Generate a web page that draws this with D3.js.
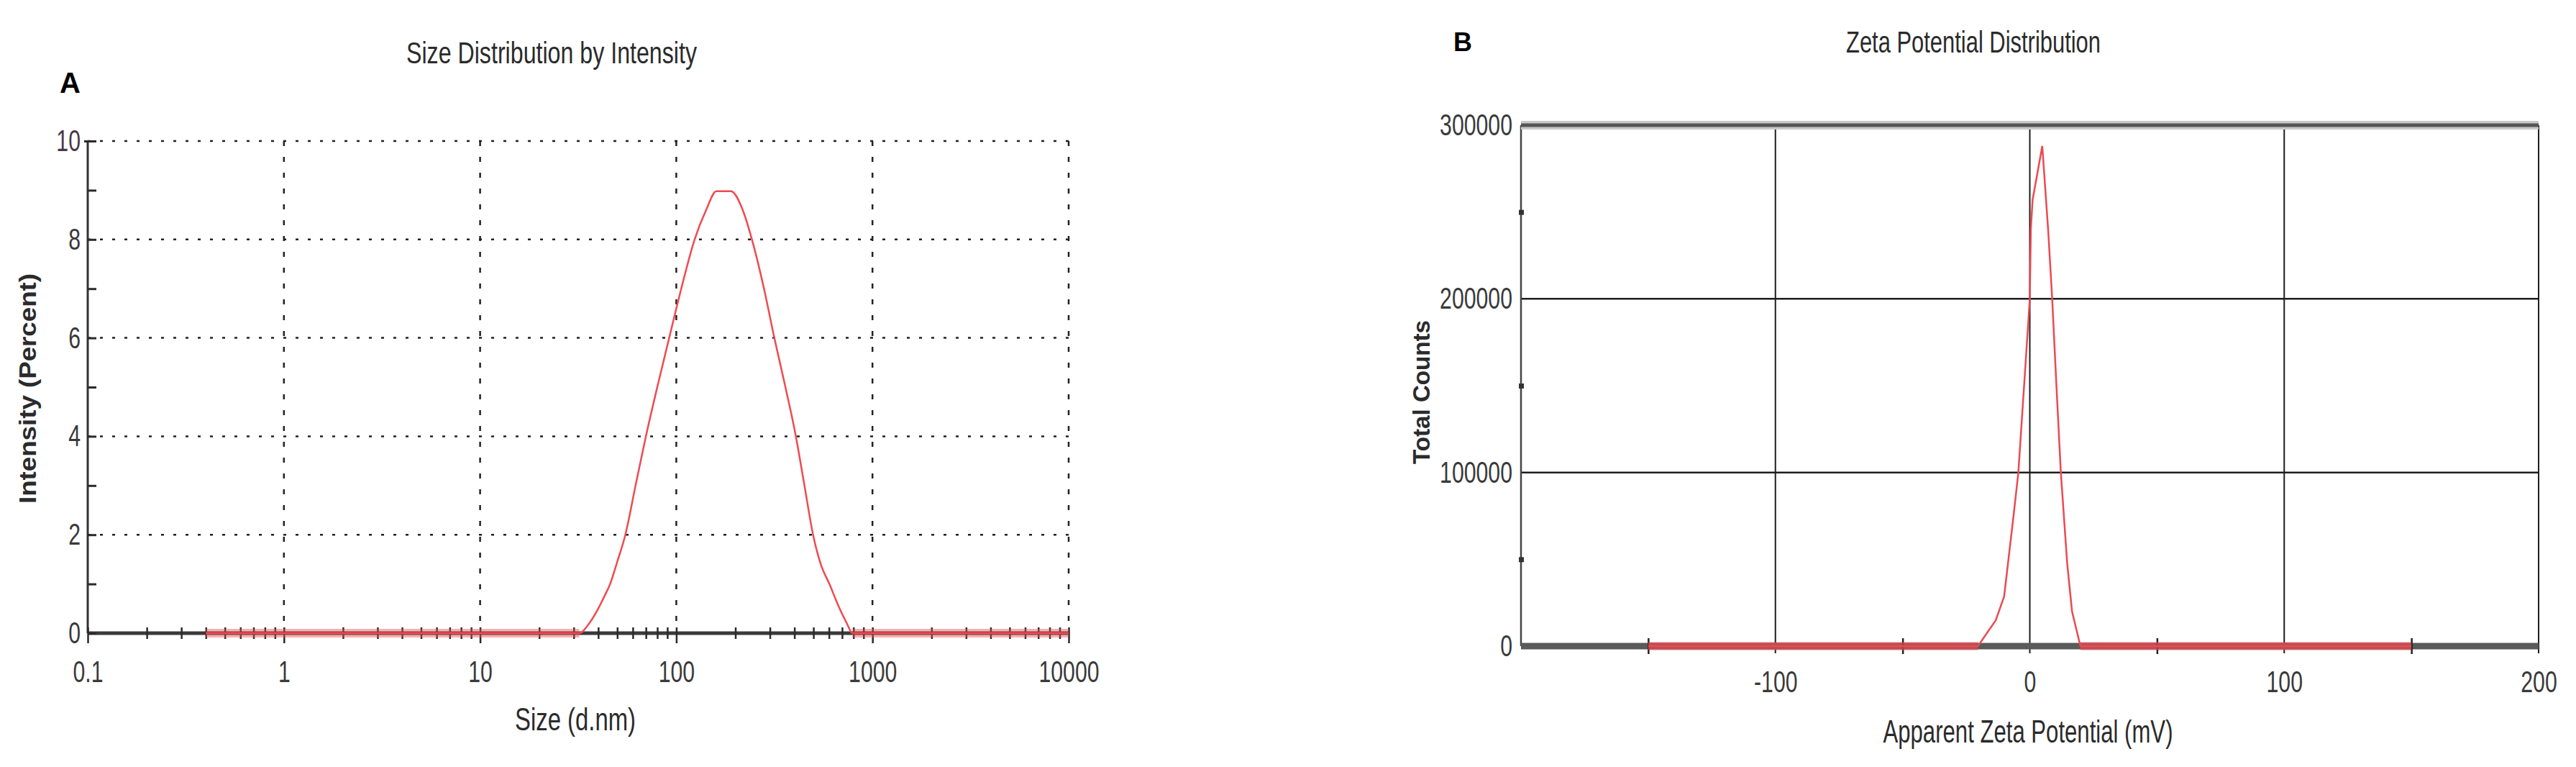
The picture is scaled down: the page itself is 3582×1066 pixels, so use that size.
<!DOCTYPE html>
<html><head><meta charset="utf-8">
<script src="https://cdn.jsdelivr.net/npm/d3@7"></script>
<style>
body{margin:0;background:#fff}
svg{display:block}
text{font-family:"Liberation Sans",Arial,Helvetica,sans-serif}
</style>
</head><body>
<svg id="c" width="3582" height="1066"></svg>
<script>
// ---------- DATA ----------
// Panel A: Size Distribution by Intensity
const sizeNm       = [0.4, 32, 36, 40, 43, 46, 50, 55, 62, 70, 80, 92, 106, 124, 142, 160, 190, 218, 243, 280, 316, 360, 407, 450, 498, 545, 603, 680, 740, 790, 10000];
const intensityPct = [0,   0,  0.2, 0.5, 0.75, 1.0, 1.45, 2.0, 3.0, 4.0, 5.0, 6.0, 7.0, 8.0, 8.6, 8.98, 8.98, 8.6, 8.0, 7.0, 6.0, 5.0, 4.0, 3.0, 2.0, 1.4, 1.0, 0.5, 0.2, 0, 0];
const sizeTicks      = [0.1, 1, 10, 100, 1000, 10000];
const sizeTickLabels = ["0.1", "1", "10", "100", "1000", "10000"];
const intensityTicks = [0, 2, 4, 6, 8, 10];
const intensityMinor = [1, 3, 5, 7, 9];

// Panel B: Zeta Potential Distribution
const zetaMv     = [-150, -20.4, -13.4, -10.1, -6.4, -4.5, -1.7, 0, 0.4, 1.1, 4.9, 7.2, 8.8, 10.5, 12.2, 14.7, 16.6, 19.9, 150];
const zetaCounts = [0, 0, 14800, 28500, 75000, 100000, 162000, 200000, 240000, 257000, 288000, 240000, 200000, 149000, 100000, 47600, 20000, 0, 0];
const zetaTicks  = [-100, 0, 100, 200];
const zetaMinor  = [-150, -50, 50, 150];
const countTicks = [0, 100000, 200000, 300000];
const countMinor = [50000, 150000, 250000];

// ---------- HELPERS ----------
const svg = d3.select('#c');
svg.append('rect').attr('width', 3582).attr('height', 1066).attr('fill', '#fff');

function condense(sel, f) {
  sel.each(function () {
    const w = this.getComputedTextLength();
    this.setAttribute('textLength', w * f);
    this.setAttribute('lengthAdjust', 'spacingAndGlyphs');
  });
}
function label(g, x, y, str, o) {
  const t = g.append('text').attr('x', x).attr('y', y).text(str)
    .attr('font-size', o.fs).attr('fill', o.fill || '#2e2e2e')
    .attr('font-weight', o.bold ? 'bold' : 'normal')
    .attr('text-anchor', o.anchor || 'middle');
  if (o.rot) t.attr('transform', `rotate(${o.rot},${x},${y})`);
  if (o.len) t.attr('textLength', o.len).attr('lengthAdjust', 'spacingAndGlyphs');
  return t;
}

// ---------- PANEL A ----------
const xA = d3.scaleLog().domain([0.1, 10000]).range([122, 1486]);
const yA = d3.scaleLinear().domain([0, 10]).range([880, 196]);
const gA = svg.append('g');

// grid
gA.selectAll('line.hg').data(intensityTicks.filter(d => d > 0)).join('line').attr('class', 'hg')
  .attr('x1', xA(0.1)).attr('x2', xA(10000)).attr('y1', d => yA(d)).attr('y2', d => yA(d))
  .attr('stroke', '#222').attr('stroke-width', 2.5).attr('stroke-dasharray', '4,13');
gA.selectAll('line.vg').data(sizeTicks.slice(1)).join('line').attr('class', 'vg')
  .attr('x1', d => xA(d)).attr('x2', d => xA(d)).attr('y1', yA(10)).attr('y2', yA(0))
  .attr('stroke', '#222').attr('stroke-width', 2.5).attr('stroke-dasharray', '7,15');

// axis lines
gA.append('line').attr('x1', xA(0.1)).attr('x2', xA(0.1)).attr('y1', yA(0)).attr('y2', yA(10))
  .attr('stroke', '#333').attr('stroke-width', 3);
gA.append('line').attr('x1', xA(0.1)).attr('x2', xA(10000)).attr('y1', yA(0)).attr('y2', yA(0))
  .attr('stroke', '#3a3a3a').attr('stroke-width', 5);

// x minor ticks
const minorA = [];
sizeTicks.slice(0, -1).forEach(dec => { for (let m = 2; m <= 9; m++) minorA.push(+(dec * m).toPrecision(3)); });
const axAm = gA.append('g').attr('transform', `translate(0,${yA(0)})`)
  .call(d3.axisBottom(xA).tickValues(minorA).tickFormat('').tickSizeOuter(0));
axAm.select('.domain').remove();
axAm.selectAll('.tick line').attr('y1', -8).attr('y2', 8).attr('stroke', '#2a2a2a').attr('stroke-width', 2.5);

// x major ticks + labels
const axA = gA.append('g').attr('transform', `translate(0,${yA(0)})`)
  .call(d3.axisBottom(xA).tickValues(sizeTicks).tickFormat((d, i) => sizeTickLabels[i]).tickSizeOuter(0));
axA.select('.domain').remove();
axA.selectAll('.tick line').attr('y1', -8).attr('y2', 14).attr('stroke', '#2a2a2a').attr('stroke-width', 2.5);
axA.selectAll('.tick text').attr('y', 38).attr('font-size', 42).attr('fill', '#3a3a3a')
  .attr('font-family', '"Liberation Sans",Arial,sans-serif').call(condense, 0.72);

// y ticks
const ayA = gA.append('g').attr('transform', `translate(${xA(0.1)},0)`)
  .call(d3.axisLeft(yA).tickValues(intensityTicks).tickSize(-12).tickPadding(10).tickSizeOuter(0));
ayA.select('.domain').remove();
ayA.selectAll('.tick line').attr('stroke', '#2a2a2a').attr('stroke-width', 3);
ayA.selectAll('.tick').filter(d => d === 10).select('line').attr('x1', -5);
ayA.selectAll('.tick text').attr('font-size', 42).attr('fill', '#3a3a3a')
  .attr('font-family', '"Liberation Sans",Arial,sans-serif').call(condense, 0.72);
ayA.selectAll('.tick').filter(d => d === 10).select('text').attr('fill', '#4a3848');
const ayAm = gA.append('g').attr('transform', `translate(${xA(0.1)},0)`)
  .call(d3.axisLeft(yA).tickValues(intensityMinor).tickSize(-12).tickFormat('').tickSizeOuter(0));
ayAm.select('.domain').remove();
ayAm.selectAll('.tick line').attr('stroke', '#2a2a2a').attr('stroke-width', 3);

// data: zero-run highlight band + curve
const ptsA = sizeNm.map((s, i) => [s, intensityPct[i]]);
ptsA.slice(0, -1).forEach((p, i) => {
  const q = ptsA[i + 1];
  if (p[1] === 0 && q[1] === 0) {
    gA.append('line').attr('x1', xA(p[0])).attr('x2', xA(q[0])).attr('y1', yA(0)).attr('y2', yA(0))
      .attr('stroke', 'rgb(232,80,86)').attr('stroke-opacity', 0.45).attr('stroke-width', 12);
  }
});
gA.append('path').datum(ptsA)
  .attr('d', d3.line().x(d => xA(d[0])).y(d => yA(d[1])).curve(d3.curveMonotoneX))
  .attr('fill', 'none').attr('stroke', '#ef4a50').attr('stroke-width', 2.5);

// texts
label(gA, 767, 88, 'Size Distribution by Intensity', {fs: 42, len: 404, fill: '#2b2b2b'});
label(gA, 83, 129, 'A', {fs: 40, bold: true, anchor: 'start', fill: '#000'});
label(gA, 800, 1015, 'Size (d.nm)', {fs: 44, len: 168, fill: '#2b2b2b'});
label(gA, 50, 540, 'Intensity (Percent)', {fs: 34, bold: true, rot: -90, len: 320, fill: '#2b2b2b'});

// ---------- PANEL B ----------
const xB = d3.scaleLinear().domain([-200, 200]).range([2115, 3530]);
const yB = d3.scaleLinear().domain([0, 300000]).range([898, 174]);
const gB = svg.append('g');

// grid
gB.selectAll('line.hg').data(countTicks.filter(d => d > 0 && d < 300000)).join('line').attr('class', 'hg')
  .attr('x1', xB(-200)).attr('x2', xB(200)).attr('y1', d => yB(d)).attr('y2', d => yB(d))
  .attr('stroke', '#1e1e1e').attr('stroke-width', 2.5);
gB.selectAll('line.vg').data(zetaTicks).join('line').attr('class', 'vg')
  .attr('x1', d => xB(d)).attr('x2', d => xB(d)).attr('y1', yB(300000)).attr('y2', yB(0) + 10)
  .attr('stroke', '#1e1e1e').attr('stroke-width', 2);
// left axis
gB.append('line').attr('x1', xB(-200)).attr('x2', xB(-200)).attr('y1', yB(0)).attr('y2', yB(300000))
  .attr('stroke', '#444').attr('stroke-width', 2.5);
// top border (thick grey)
gB.append('line').attr('x1', xB(-200)).attr('x2', xB(200)).attr('y1', yB(300000)).attr('y2', yB(300000))
  .attr('stroke', '#c9c9c9').attr('stroke-width', 12);
gB.append('line').attr('x1', xB(-200)).attr('x2', xB(200)).attr('y1', yB(300000)).attr('y2', yB(300000))
  .attr('stroke', '#555').attr('stroke-width', 5);
// bottom axis (thick grey)
gB.append('line').attr('x1', xB(-200)).attr('x2', xB(200)).attr('y1', yB(0)).attr('y2', yB(0))
  .attr('stroke', '#5a5a5a').attr('stroke-width', 9);

// x minor ticks
const axBm = gB.append('g').attr('transform', `translate(0,${yB(0)})`)
  .call(d3.axisBottom(xB).tickValues(zetaMinor).tickFormat('').tickSizeOuter(0));
axBm.select('.domain').remove();
axBm.selectAll('.tick line').attr('y1', -11).attr('y2', 11).attr('stroke', '#222').attr('stroke-width', 2.5);

// x labels
const axB = gB.append('g').attr('transform', `translate(0,${yB(0)})`)
  .call(d3.axisBottom(xB).tickValues(zetaTicks).tickFormat(d => String(d)).tickSize(0).tickSizeOuter(0));
axB.select('.domain').remove();
axB.selectAll('.tick text').attr('y', 34).attr('font-size', 42).attr('fill', '#3a3a3a')
  .attr('font-family', '"Liberation Sans",Arial,sans-serif').call(condense, 0.72);

// y labels + minor dots
const ayB = gB.append('g').attr('transform', `translate(${xB(-200)},0)`)
  .call(d3.axisLeft(yB).tickValues(countTicks).tickFormat(d => String(d)).tickSize(0).tickPadding(12).tickSizeOuter(0));
ayB.select('.domain').remove();
ayB.selectAll('.tick text').attr('font-size', 42).attr('fill', '#3a3a3a')
  .attr('font-family', '"Liberation Sans",Arial,sans-serif').call(condense, 0.72);
const ayBm = gB.append('g').attr('transform', `translate(${xB(-200)},0)`)
  .call(d3.axisLeft(yB).tickValues(countMinor).tickFormat('').tickSizeOuter(0));
ayBm.select('.domain').remove();
ayBm.selectAll('.tick line').attr('x1', -3).attr('x2', 4).attr('stroke', '#333').attr('stroke-width', 7);

// data
const ptsB = zetaMv.map((v, i) => [v, zetaCounts[i]]);
ptsB.slice(0, -1).forEach((p, i) => {
  const q = ptsB[i + 1];
  if (p[1] === 0 && q[1] === 0) {
    gB.append('line').attr('x1', xB(p[0])).attr('x2', xB(q[0])).attr('y1', yB(0)).attr('y2', yB(0))
      .attr('stroke', 'rgb(228,72,80)').attr('stroke-opacity', 0.7).attr('stroke-width', 11);
  }
});
gB.append('path').datum(ptsB)
  .attr('d', d3.line().x(d => xB(d[0])).y(d => yB(d[1])))
  .attr('fill', 'none').attr('stroke', '#ea4a52').attr('stroke-width', 2.5);

// texts
label(gB, 2744, 73, 'Zeta Potential Distribution', {fs: 42, len: 354, fill: '#2b2b2b'});
label(gB, 2021, 71, 'B', {fs: 36, bold: true, anchor: 'start', fill: '#000'});
label(gB, 2820, 1032, 'Apparent Zeta Potential (mV)', {fs: 44, len: 403, fill: '#2b2b2b'});
label(gB, 1988, 545, 'Total Counts', {fs: 34, bold: true, rot: -90, len: 200, fill: '#2b2b2b'});
</script>
</body></html>
